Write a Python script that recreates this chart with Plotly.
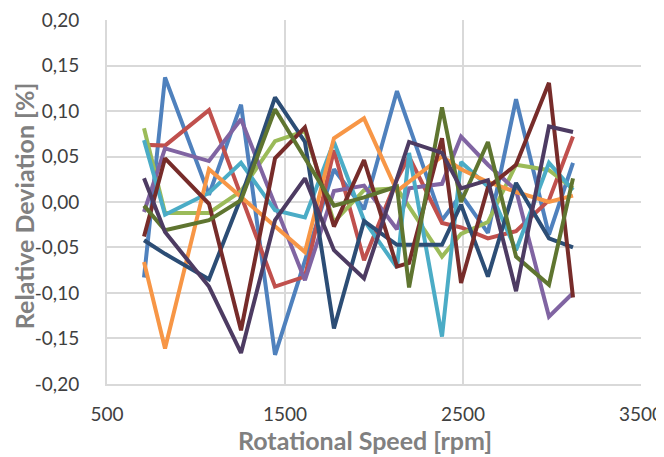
import plotly.graph_objects as go

# ---- data ----
blue_x = [708, 826, 1073, 1253, 1444, 1775, 1944, 2129, 2382, 2489, 2640, 2798, 2983, 3118]
blue_y = [-0.083, 0.137, 0.008, 0.107, -0.168, 0.036, -0.008, 0.122, -0.020, 0.008, -0.034, 0.113, -0.036, 0.043]

red_x = [708, 826, 1073, 1444, 1612, 1775, 1944, 2129, 2197, 2382, 2489, 2640, 2798, 2983, 3118]
red_y = [0.063, 0.062, 0.101, -0.093, -0.082, 0.057, -0.064, 0.025, 0.050, -0.023, -0.028, -0.040, -0.032, 0.002, 0.072]

green_x = [708, 826, 1073, 1253, 1444, 1612, 1775, 1944, 2129, 2382, 2489, 2640, 2798, 2983, 3118]
green_y = [0.081, -0.012, -0.012, 0.012, 0.067, 0.078, -0.022, 0.013, 0.015, -0.060, -0.035, -0.022, 0.041, 0.035, 0.015]

purple_x = [708, 826, 1073, 1253, 1612, 1775, 1944, 2129, 2197, 2382, 2489, 2640, 2798, 2983, 3118]
purple_y = [-0.011, 0.059, 0.045, 0.091, -0.086, 0.012, 0.018, -0.030, 0.015, 0.020, 0.072, 0.041, 0.013, -0.126, -0.100]

aqua_x = [708, 826, 1073, 1253, 1444, 1612, 1775, 1944, 2129, 2197, 2382, 2489, 2640, 2798, 2983, 3118]
aqua_y = [0.068, -0.014, 0.010, 0.043, -0.009, -0.017, 0.066, -0.020, -0.072, 0.054, -0.148, 0.044, 0.017, -0.053, 0.043, 0.013]

orange_x = [708, 826, 1073, 1612, 1775, 1944, 2129, 2382, 2489, 2640, 2798, 2983, 3118]
orange_y = [-0.066, -0.161, 0.036, -0.055, 0.070, 0.092, 0.012, 0.050, 0.036, 0.022, 0.011, 0.000, 0.007]

darkblue_x = [708, 826, 1073, 1253, 1444, 1612, 1775, 1944, 2129, 2382, 2489, 2640, 2798, 2983, 3118]
darkblue_y = [-0.042, -0.057, -0.085, 0.005, 0.115, 0.066, -0.139, -0.021, -0.047, -0.047, -0.003, -0.082, 0.021, -0.040, -0.050]

darkred_x = [708, 826, 1073, 1253, 1444, 1612, 1775, 1944, 2129, 2197, 2382, 2489, 2640, 2798, 2983, 3118]
darkred_y = [-0.038, 0.048, -0.002, -0.141, 0.048, 0.082, -0.027, 0.046, -0.071, -0.067, 0.070, -0.089, 0.016, 0.041, 0.131, -0.105]

olive_x = [708, 826, 1073, 1253, 1444, 1775, 1944, 2129, 2197, 2382, 2489, 2640, 2798, 2983, 3118]
olive_y = [-0.004, -0.031, -0.020, 0.002, 0.102, -0.004, 0.005, 0.017, -0.094, 0.104, 0.000, 0.066, -0.060, -0.091, 0.026]

darkpurple_x = [708, 826, 1073, 1253, 1444, 1612, 1775, 1944, 2197, 2382, 2489, 2640, 2798, 2983, 3118]
darkpurple_y = [0.026, -0.033, -0.093, -0.166, -0.020, 0.026, -0.053, -0.084, 0.066, 0.054, 0.015, 0.024, -0.098, 0.083, 0.077]

x_ticks = [500, 1500, 2500, 3500]
y_ticks = [-0.20, -0.15, -0.10, -0.05, 0.00, 0.05, 0.10, 0.15, 0.20]
y_tick_labels = ["-0,20", "-0,15", "-0,10", "-0,05", "0,00", "0,05", "0,10", "0,15", "0,20"]

x_title = "Rotational Speed [rpm]"
y_title = "Relative Deviation [%]"

series = [
    (blue_x, blue_y, "#4F81BD"),
    (red_x, red_y, "#C0504D"),
    (green_x, green_y, "#9BBB59"),
    (purple_x, purple_y, "#8064A2"),
    (aqua_x, aqua_y, "#4BACC6"),
    (orange_x, orange_y, "#F79646"),
    (darkblue_x, darkblue_y, "#2C4D75"),
    (darkred_x, darkred_y, "#772C2A"),
    (olive_x, olive_y, "#5F7530"),
    (darkpurple_x, darkpurple_y, "#4D3B62"),
]

fig = go.Figure()
for xs, ys, col in series:
    fig.add_trace(go.Scatter(x=xs, y=ys, mode="lines",
                             line=dict(color=col, width=4),
                             hoverinfo="skip"))

# page body adds an 8px offset, so the figure is sized/margined to compensate
fig.update_layout(
    width=656, height=449,
    margin=dict(l=99, r=23, t=12, b=73),
    paper_bgcolor="white", plot_bgcolor="white",
    showlegend=False,
    separators=",.",
    font=dict(family="Lato, Noto Sans, sans-serif", size=19, color="#404040"),
)
fig.update_xaxes(
    range=[500, 3500], tickvals=x_ticks,
    showgrid=True, gridcolor="#d9d9d9", gridwidth=2,
    showline=True, linecolor="#d9d9d9", linewidth=2,
    zeroline=False, ticks="", ticklabelstandoff=12, automargin=False,
    ticklabeloverflow="allow",
)
fig.update_yaxes(
    range=[-0.2001, 0.2001], tickvals=y_ticks, ticktext=y_tick_labels,
    showgrid=True, gridcolor="#d9d9d9", gridwidth=2,
    showline=True, linecolor="#d9d9d9", linewidth=2,
    zeroline=False, ticks="", ticklabelstandoff=22, automargin=False,
    ticklabeloverflow="allow",
)
fig.add_annotation(text="<b>" + x_title + "</b>", xref="paper", yref="paper",
                   x=0.483, y=-0.154, xanchor="center", yanchor="middle",
                   showarrow=False, font=dict(size=25, color="#808080"))
fig.add_annotation(text="<b>" + y_title + "</b>", xref="paper", yref="paper",
                   x=-0.154, y=0.488, xanchor="center", yanchor="middle",
                   textangle=-90, showarrow=False,
                   font=dict(size=25, color="#808080"))

fig.write_html("out.html")
